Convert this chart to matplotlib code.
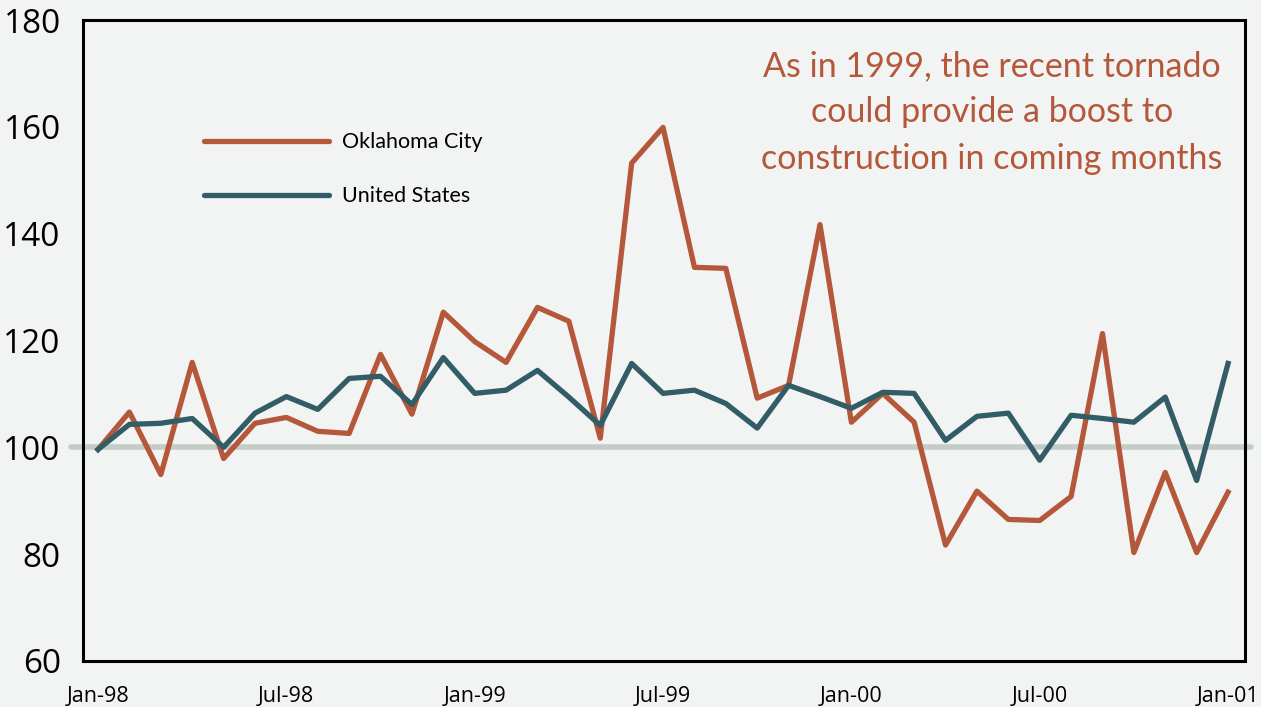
import numpy as np
import matplotlib.pyplot as plt

# monthly index values, Jan-98 .. Jan-01
months = np.arange(37)
okc = [99.6, 106.6, 94.9, 115.9, 97.9, 104.5, 105.6, 103.0, 102.6, 117.4,
       106.2, 125.3, 119.8, 115.9, 126.2, 123.6, 101.7, 153.2, 159.9, 133.7,
       133.5, 109.2, 111.6, 141.7, 104.7, 110.1, 104.7, 81.7, 91.8, 86.5,
       86.3, 90.8, 121.3, 80.3, 95.3, 80.3, 91.6]
us = [99.6, 104.3, 104.5, 105.4, 100.0, 106.4, 109.5, 107.1, 112.9, 113.3,
      108.0, 116.8, 110.1, 110.7, 114.4, 109.4, 104.1, 115.7, 110.1, 110.7,
      108.2, 103.6, 111.6, 109.5, 107.3, 110.3, 110.1, 101.3, 105.8, 106.4,
      97.6, 106.0, 105.4, 104.7, 109.4, 93.8, 115.7]
tick_pos = [0, 6, 12, 18, 24, 30, 36]
tick_lab = ["Jan-98", "Jul-98", "Jan-99", "Jul-99", "Jan-00", "Jul-00", "Jan-01"]
yticks = [60, 80, 100, 120, 140, 160, 180]

bg = "#F2F4F3"
c_okc = "#B5573A"
c_us = "#325C66"

fig = plt.figure(figsize=(12.61, 7.07), dpi=100, facecolor=bg)
ax = fig.add_axes([0.0658, 0.0651, 0.9215, 0.9066], facecolor=bg)

ax.axhline(100, color="#C5CCC5", lw=4, solid_capstyle="round",
           xmin=-0.01, xmax=1.005, clip_on=False, zorder=1)
ax.plot(months, okc, color=c_okc, lw=3.8, label="Oklahoma City", zorder=3)
ax.plot(months, us, color=c_us, lw=3.8, label="United States", zorder=4)

ax.set_xlim(-0.48, 36.54)
ax.set_ylim(60, 180)
ax.set_xticks(tick_pos)
ax.set_xticklabels(tick_lab, fontfamily="Open Sans", fontsize=15.5)
ax.set_yticks(yticks)
ax.set_yticklabels([str(v) for v in yticks], fontfamily="Open Sans", fontsize=24)
ax.tick_params(axis="x", length=0, pad=18)
ax.tick_params(axis="y", length=0, pad=16)
for s in ax.spines.values():
    s.set_linewidth(2.2)
    s.set_color("black")

leg = ax.legend(loc="upper left", bbox_to_anchor=(0.095, 0.842), frameon=False,
                handlelength=5.8, handletextpad=0.6, labelspacing=1.6,
                borderpad=0, prop={"family": "Lato", "size": 15.5})
for h in leg.get_lines():
    h.set_solid_capstyle("round")

ax.text(0.782, 0.856, "As in 1999, the recent tornado\ncould provide a boost to\nconstruction in coming months",
        transform=ax.transAxes, ha="center", va="center", color=c_okc,
        fontfamily="Lato", fontsize=24.5, linespacing=1.55)

fig.savefig("out.png", dpi=100, facecolor=bg)
